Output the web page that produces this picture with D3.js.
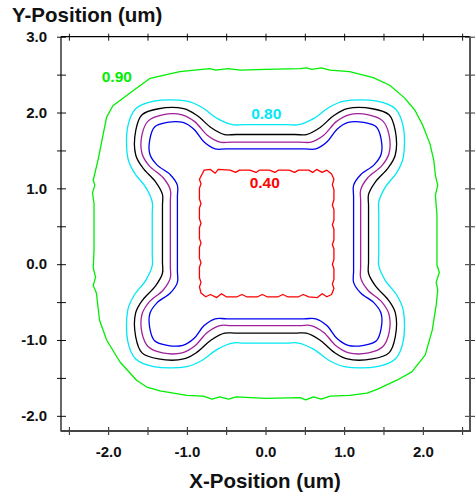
<!DOCTYPE html>
<html><head><meta charset="utf-8">
<script src="https://cdn.jsdelivr.net/npm/d3@7"></script>
<style>
body{margin:0;background:#fff}
svg{display:block}
text{font-family:"Liberation Sans",Arial,sans-serif;font-weight:bold}
</style>
</head><body>
<svg id="chart" width="475" height="498"></svg>
<script>
// ---- data (micrometres) ----
const xTicks = [-2.5,-2,-1.5,-1,-0.5,0,0.5,1,1.5,2,2.5];
const yTicks = [-2,-1.5,-1,-0.5,0,0.5,1,1.5,2,2.5,3];
const xLabelValues = [-2,-1,0,1,2];
const xLabels = ["-2.0","-1.0","0.0","1.0","2.0"];
const yLabelValues = [-2,-1,0,1,2,3];
const yLabels = ["-2.0","-1.0","0.0","1.0","2.0","3.0"];

const levels = ["0.90","0.80","0.70","0.60","0.50","0.40"];

const contour090 = [
[0.00,2.57],[0.44,2.58],[0.52,2.59],[0.59,2.57],[0.71,2.59],[0.82,2.56],[1.07,2.54],[1.37,2.46],[1.58,2.36],[1.77,2.19],[1.90,2.03],[2.00,1.83],[2.09,1.59],[2.14,1.37],[2.16,1.17],[2.19,1.04],[2.16,0.91],[2.18,0.65],[2.18,0.18],[2.18,-0.01],[2.21,-0.11],[2.17,-0.24],[2.19,-0.34],[2.17,-0.54],[2.12,-0.87],[2.03,-1.20],[1.86,-1.42],[1.67,-1.53],[1.42,-1.65],[1.29,-1.70],[1.07,-1.73],[0.82,-1.74],[0.71,-1.78],[0.61,-1.75],[0.51,-1.79],[0.44,-1.76],[0.00,-1.77],[-0.37,-1.75],[-0.47,-1.78],[-0.58,-1.75],[-0.68,-1.78],[-0.79,-1.74],[-1.00,-1.73],[-1.34,-1.67],[-1.51,-1.62],[-1.64,-1.53],[-1.85,-1.29],[-2.02,-1.00],[-2.11,-0.74],[-2.15,-0.38],[-2.19,-0.28],[-2.16,-0.17],[-2.19,-0.05],[-2.18,0.18],[-2.18,0.65],[-2.18,0.80],[-2.20,0.94],[-2.17,1.04],[-2.19,1.11],[-2.13,1.37],[-2.08,1.63],[-2.02,1.94],[-1.94,2.09],[-1.68,2.29],[-1.47,2.45],[-1.09,2.54],[-0.71,2.58],[-0.63,2.56],[-0.48,2.58],[-0.32,2.56]
];

const contour080 = [
[-0.27,1.84],[-0.42,1.84],[-0.61,1.92],[-0.81,2.07],[-1.00,2.15],[-1.42,2.15],[-1.65,2.05],[-1.75,1.82],[-1.75,1.40],[-1.67,1.21],[-1.52,1.01],[-1.44,0.82],[-1.44,0.67],
[-1.44,0.13],[-1.44,-0.02],[-1.52,-0.21],[-1.67,-0.41],[-1.75,-0.60],[-1.75,-1.02],[-1.65,-1.25],[-1.42,-1.35],[-1.00,-1.35],[-0.81,-1.27],[-0.61,-1.12],[-0.42,-1.04],[-0.27,-1.04],
[0.27,-1.04],[0.42,-1.04],[0.61,-1.12],[0.81,-1.27],[1.00,-1.35],[1.42,-1.35],[1.65,-1.25],[1.75,-1.02],[1.75,-0.60],[1.67,-0.41],[1.52,-0.21],[1.44,-0.02],[1.44,0.13],
[1.44,0.67],[1.44,0.82],[1.52,1.01],[1.67,1.21],[1.75,1.40],[1.75,1.82],[1.65,2.05],[1.42,2.15],[1.00,2.15],[0.81,2.07],[0.61,1.92],[0.42,1.84],[0.27,1.84]
];

const contour070 = [
[-0.37,1.71],[-0.52,1.71],[-0.69,1.80],[-0.87,1.96],[-1.04,2.05],[-1.36,2.05],[-1.57,1.97],[-1.65,1.76],[-1.65,1.44],[-1.56,1.27],[-1.40,1.09],[-1.31,0.92],[-1.31,0.77],
[-1.31,0.03],[-1.31,-0.12],[-1.40,-0.29],[-1.56,-0.47],[-1.65,-0.64],[-1.65,-0.96],[-1.57,-1.17],[-1.36,-1.25],[-1.04,-1.25],[-0.87,-1.16],[-0.69,-1.00],[-0.52,-0.91],[-0.37,-0.91],
[0.37,-0.91],[0.52,-0.91],[0.69,-1.00],[0.87,-1.16],[1.04,-1.25],[1.36,-1.25],[1.57,-1.17],[1.65,-0.96],[1.65,-0.64],[1.56,-0.47],[1.40,-0.29],[1.31,-0.12],[1.31,0.03],
[1.31,0.77],[1.31,0.92],[1.40,1.09],[1.56,1.27],[1.65,1.44],[1.65,1.76],[1.57,1.97],[1.36,2.05],[1.04,2.05],[0.87,1.96],[0.69,1.80],[0.52,1.71],[0.37,1.71]
];

const contour060 = [
[-0.43,1.61],[-0.58,1.61],[-0.74,1.70],[-0.90,1.88],[-1.06,1.97],[-1.31,1.97],[-1.49,1.89],[-1.57,1.71],[-1.57,1.46],[-1.48,1.30],[-1.30,1.14],[-1.21,0.98],[-1.21,0.83],
[-1.21,-0.03],[-1.21,-0.18],[-1.30,-0.34],[-1.48,-0.50],[-1.57,-0.66],[-1.57,-0.91],[-1.49,-1.09],[-1.31,-1.17],[-1.06,-1.17],[-0.90,-1.08],[-0.74,-0.90],[-0.58,-0.81],[-0.43,-0.81],
[0.43,-0.81],[0.58,-0.81],[0.74,-0.90],[0.90,-1.08],[1.06,-1.17],[1.31,-1.17],[1.49,-1.09],[1.57,-0.91],[1.57,-0.66],[1.48,-0.50],[1.30,-0.34],[1.21,-0.18],[1.21,-0.03],
[1.21,0.83],[1.21,0.98],[1.30,1.14],[1.48,1.30],[1.57,1.46],[1.57,1.71],[1.49,1.89],[1.31,1.97],[1.06,1.97],[0.90,1.88],[0.74,1.70],[0.58,1.61],[0.43,1.61]
];

const contour050 = [
[-0.49,1.52],[-0.64,1.52],[-0.78,1.61],[-0.91,1.78],[-1.05,1.87],[-1.25,1.87],[-1.41,1.81],[-1.47,1.65],[-1.47,1.45],[-1.38,1.31],[-1.21,1.18],[-1.12,1.04],[-1.12,0.89],
[-1.12,-0.09],[-1.12,-0.24],[-1.21,-0.38],[-1.38,-0.51],[-1.47,-0.65],[-1.47,-0.85],[-1.41,-1.01],[-1.25,-1.07],[-1.05,-1.07],[-0.91,-0.98],[-0.78,-0.81],[-0.64,-0.72],[-0.49,-0.72],
[0.49,-0.72],[0.64,-0.72],[0.78,-0.81],[0.91,-0.98],[1.05,-1.07],[1.25,-1.07],[1.41,-1.01],[1.47,-0.85],[1.47,-0.65],[1.38,-0.51],[1.21,-0.38],[1.12,-0.24],[1.12,-0.09],
[1.12,0.89],[1.12,1.04],[1.21,1.18],[1.38,1.31],[1.47,1.45],[1.47,1.65],[1.41,1.81],[1.25,1.87],[1.05,1.87],[0.91,1.78],[0.78,1.61],[0.64,1.52],[0.49,1.52]
];

const contour040 = [
[-0.78,1.24],[-0.70,1.25],[-0.64,1.20],[-0.60,1.25],[-0.45,1.24],[-0.38,1.21],[-0.33,1.24],[-0.20,1.24],[-0.12,1.21],[-0.08,1.24],[0.05,1.24],[0.12,1.21],[0.16,1.24],[0.30,1.24],[0.37,1.21],[0.42,1.24],[0.55,1.24],[0.60,1.21],[0.65,1.25],[0.72,1.21],[0.78,1.24],[0.84,1.19],
[0.87,1.12],[0.85,1.05],[0.87,0.98],[0.87,0.85],[0.85,0.78],[0.87,0.72],[0.87,0.58],[0.85,0.52],[0.87,0.46],[0.87,0.32],[0.85,0.26],[0.87,0.20],[0.87,0.06],[0.85,0.00],[0.87,-0.06],[0.87,-0.20],[0.85,-0.26],[0.87,-0.32],[0.84,-0.40],
[0.78,-0.43],[0.72,-0.39],[0.66,-0.44],[0.55,-0.43],[0.48,-0.40],[0.42,-0.43],[0.28,-0.43],[0.22,-0.40],[0.16,-0.43],[0.02,-0.43],[-0.04,-0.40],[-0.10,-0.43],[-0.24,-0.43],[-0.30,-0.40],[-0.36,-0.43],[-0.50,-0.43],[-0.56,-0.39],[-0.62,-0.44],[-0.70,-0.40],[-0.76,-0.43],[-0.82,-0.38],
[-0.84,-0.30],[-0.82,-0.24],[-0.84,-0.18],[-0.84,-0.04],[-0.82,0.02],[-0.84,0.08],[-0.84,0.22],[-0.82,0.28],[-0.84,0.34],[-0.84,0.48],[-0.82,0.54],[-0.84,0.60],[-0.84,0.74],[-0.82,0.80],[-0.84,0.86],[-0.84,1.00],[-0.82,1.06],[-0.84,1.12],[-0.80,1.20]
];

// contour label anchors (data units)
const labelLevels = ["0.90","0.80","0.40"];
const labelX = [-1.89, 0.01, -0.01];
const labelY = [2.48, 1.98, 1.07];

// ---- drawing ----
const styles = {
  "0.90": {color:"#00ee00", smooth:false, data:contour090},
  "0.80": {color:"#00e8f4", smooth:true,  data:contour080},
  "0.70": {color:"#000000", smooth:true,  data:contour070},
  "0.60": {color:"#a0209c", smooth:true,  data:contour060},
  "0.50": {color:"#0000f0", smooth:true,  data:contour050},
  "0.40": {color:"#ff0000", smooth:false, data:contour040}
};

const svg = d3.select("#chart");
svg.append("rect").attr("width",475).attr("height",498).attr("fill","#fff");

const x = d3.scaleLinear().domain([-2.6,2.6]).range([61,470]);
const y = d3.scaleLinear().domain([-2.2,3.0]).range([431,36.7]);

const lineSmooth = d3.line().x(d=>x(d[0])).y(d=>y(d[1])).curve(d3.curveCatmullRomClosed.alpha(0.5));
const lineRough  = d3.line().x(d=>x(d[0])).y(d=>y(d[1])).curve(d3.curveLinearClosed);

const gC = svg.append("g");
levels.forEach(l => {
  const s = styles[l];
  gC.append("path")
    .attr("d", (s.smooth ? lineSmooth : lineRough)(s.data))
    .attr("fill","none")
    .attr("stroke", s.color)
    .attr("stroke-width", 1.3)
    .attr("stroke-linejoin","round");
});

labelLevels.forEach((l,i) => {
  svg.append("text")
    .attr("x", x(labelX[i])).attr("y", y(labelY[i]))
    .attr("dy","0.35em")
    .attr("text-anchor","middle")
    .attr("font-size",15.5)
    .attr("fill", styles[l].color)
    .text(l);
});

const fmtX = d => { const i = xLabelValues.indexOf(d); return i >= 0 ? xLabels[i] : ""; };
const fmtY = d => { const i = yLabelValues.indexOf(d); return i >= 0 ? yLabels[i] : ""; };

// left axis
const gL = svg.append("g").attr("transform","translate(61,0)")
  .call(d3.axisLeft(y).tickValues(yTicks).tickFormat(fmtY).tickSize(4));
gL.select(".domain").remove();
gL.selectAll(".tick line").attr("x1",5).attr("x2",-4).attr("stroke","#111");
gL.selectAll(".tick text").attr("x",-14).attr("font-size",15).attr("fill","#111")
  .attr("font-family",'"Liberation Sans",Arial,sans-serif').attr("font-weight","bold");

// bottom axis
const gB = svg.append("g").attr("transform","translate(0,431)")
  .call(d3.axisBottom(x).tickValues(xTicks).tickFormat(fmtX).tickSize(4));
gB.select(".domain").remove();
gB.selectAll(".tick line").attr("y1",-4).attr("y2",4).attr("stroke","#222");
gB.selectAll(".tick text").attr("y",26).attr("dy","0").attr("font-size",15).attr("fill","#111")
  .attr("font-family",'"Liberation Sans",Arial,sans-serif').attr("font-weight","bold");

// top axis
const gT = svg.append("g").attr("transform","translate(0,36.7)")
  .call(d3.axisTop(x).tickValues(xTicks).tickFormat("").tickSize(3));
gT.select(".domain").remove();
gT.selectAll(".tick line").attr("y1",4).attr("y2",-3).attr("stroke","#111");

// right axis
const gR = svg.append("g").attr("transform","translate(470,0)")
  .call(d3.axisRight(y).tickValues(yTicks).tickFormat("").tickSize(5));
gR.select(".domain").remove();
gR.selectAll(".tick line").attr("x1",-5).attr("x2",5).attr("stroke","#333");

// frame
const fr = svg.append("g");
fr.append("line").attr("x1",61).attr("x2",61).attr("y1",36.7).attr("y2",431).attr("stroke","#000").attr("stroke-width",1.2);
fr.append("line").attr("x1",61).attr("x2",470).attr("y1",36.7).attr("y2",36.7).attr("stroke","#000").attr("stroke-width",1.2);
fr.append("line").attr("x1",470).attr("x2",470).attr("y1",36.2).attr("y2",432).attr("stroke","#555").attr("stroke-width",2);
fr.append("line").attr("x1",60.5).attr("x2",471).attr("y1",431).attr("y2",431).attr("stroke","#444").attr("stroke-width",2);

// titles
svg.append("text").attr("x",12).attr("y",22).attr("font-size",20.5).attr("fill","#111").text("Y-Position (um)");
svg.append("text").attr("x",265).attr("y",488).attr("text-anchor","middle").attr("font-size",20.5).attr("fill","#111").text("X-Position (um)");
</script>
</body></html>
